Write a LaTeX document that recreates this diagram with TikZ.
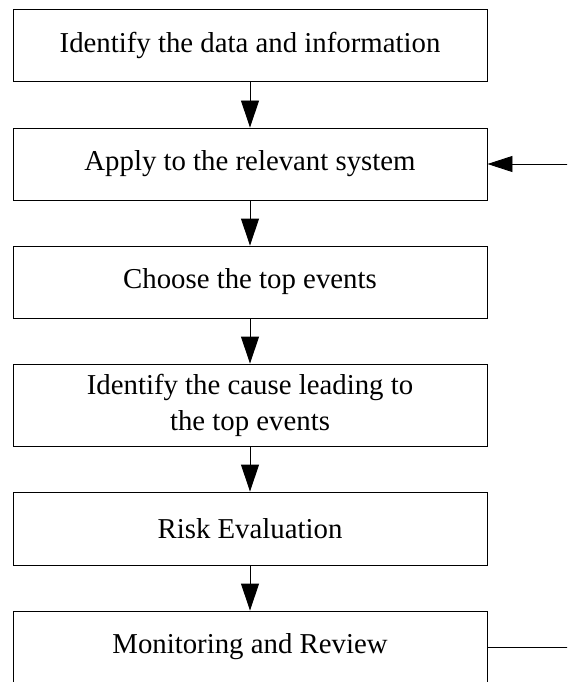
\documentclass[tikz,border=0pt]{standalone}
\usepackage{fontspec}
\setmainfont{Liberation Serif}
\usetikzlibrary{arrows.meta}
\begin{document}
\begin{tikzpicture}[x=1pt,y=-1pt,
  stepbox/.style={draw=black, line width=0.9pt, minimum width=474pt,
    minimum height=72pt, inner sep=0pt, align=center,
    font=\fontsize{28.8}{36}\selectfont},
  flow/.style={draw=black, line width=0.9pt,
    -{Triangle[length=27pt,width=18pt]}},
  loopback/.style={draw=black, line width=0.9pt,
    -{Triangle[length=25pt,width=16pt]}}]
\useasboundingbox (0,0) rectangle (567,682);
\clip (0,0) rectangle (567,682);

% process steps
\node[stepbox] (s1) at (250,45) {Identify the data and information};
\node[stepbox] (s2) at (250,164) {Apply to the relevant system};
\node[stepbox] (s3) at (250,282) {Choose the top events};
\node[stepbox, minimum height=82pt] (s4) at (250,405)
  {Identify the cause leading to\\the top events};
\node[stepbox, minimum height=73pt] (s5) at (250,528.5) {Risk Evaluation};
\node[stepbox] (s6) at (250,647) {Monitoring and Review};

% downward flow
\draw[flow] (s1) -- (s2);
\draw[flow] (s2) -- (s3);
\draw[flow] (s3) -- (s4);
\draw[flow] (s4) -- (s5);
\draw[flow] (s5) -- (s6);

% review feeds back into the system step
\draw[loopback] (s6.east) -- ++(110,0) |- (s2.east);
\end{tikzpicture}
\end{document}
